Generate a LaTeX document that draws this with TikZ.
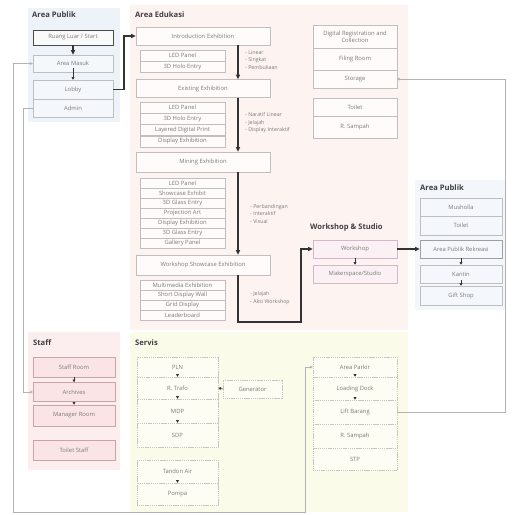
\documentclass[tikz,border=0pt]{standalone}
\usepackage{fontspec}
\setmainfont{Open Sans}
\usetikzlibrary{arrows.meta}

\definecolor{pubbg}{HTML}{EEF2F9}
\definecolor{pubbox}{HTML}{F4F7FC}
\definecolor{edubg}{HTML}{FDF4F2}
\definecolor{edubox}{HTML}{FEFBFA}
\definecolor{staffbg}{HTML}{FCEEEE}
\definecolor{staffbox}{HTML}{FBE4E6}
\definecolor{staffline}{HTML}{C8A4A8}
\definecolor{srvbg}{HTML}{FBFBEA}
\definecolor{srvbox}{HTML}{FDFDF3}
\definecolor{wsbox}{HTML}{FBF0F3}
\definecolor{wsline}{HTML}{D3B5CC}
\definecolor{txt}{HTML}{7A7A7A}

\tikzset{
  room/.style={draw=gray!50, line width=0.4pt, inner sep=0pt, align=center, text=txt, font=\fontsize{5}{6}\selectfont},
  srv/.style={room, fill=srvbox, draw=gray!45, dash pattern=on 1pt off 0.6pt},
  wide/.style={minimum width={#1*0.03cm}},
  tall/.style={minimum height={#1*0.03cm}},
  zone/.style={anchor=west, font=\fontsize{6.5}{7}\selectfont\bfseries, text=black!75, inner sep=0pt},
  note/.style={anchor=west, align=left, text=txt, font=\fontsize{4.5}{6.5}\selectfont, inner sep=0pt},
  flow/.style={-{Triangle[length=4pt,width=3.5pt]}, line width=1.1pt, draw=black!80},
  hop/.style={-{Triangle[length=2.2pt,width=2.4pt]}, line width=0.5pt, draw=black!80},
  link/.style={line width=0.5pt, draw=gray!60},
  tip/.style={-{Stealth[length=2.5pt,width=2.5pt]}},
}

\begin{document}
\begin{tikzpicture}[x=0.03cm, y=-0.03cm]
  \useasboundingbox (0,0) rectangle (511,515);
  \fill[white] (0,0) rectangle (511,515);

  % zones
  \fill[pubbg] (28,8) rectangle (120,122);
  \fill[edubg] (130,5) rectangle (408,330);
  \fill[staffbg] (28,332) rectangle (120,470);
  \fill[srvbg] (130,332) rectangle (408,512);
  \fill[pubbg!70!white] (415,180) rectangle (506,310);

  \node[zone] (tPubA) at (32,15) {Area Publik};
  \node[zone] (tEdu) at (135,15) {Area Edukasi};
  \node[zone] (tWs) at (310,228) {Workshop \& Studio};
  \node[zone] (tPubB) at (420,188) {Area Publik};
  \node[zone] (tStaff) at (33,343) {Staff};
  \node[zone] (tSrv) at (135,343) {Servis};

  % area publik (entrance)
  \node[room, wide=80, tall=15, draw=black!70, line width=0.8pt, fill=gray!4] (start) at (73,37.5) {Ruang Luar / Start};
  \node[room, wide=80, tall=17, fill=pubbox] (masuk) at (73,63.5) {Area Masuk};
  \node[room, wide=80, tall=19, fill=pubbox] (lobby) at (73,89.5) {Lobby};
  \node[room, wide=80, tall=18, fill=pubbox] (admin) at (73,108) {Admin};

  % area edukasi
  \node[room, wide=134, tall=18, fill=edubox] (intro) at (203,36) {Introduction Exhibition};
  \node[room, wide=85, tall=11, fill=edubox] (introA) at (182.5,55.5) {LED Panel};
  \node[room, wide=85, tall=11, fill=edubox] (introB) at (182.5,66.5) {3D Holo Entry};

  \node[room, wide=134, tall=18, fill=edubox] (exist) at (203,88.5) {Existing Exhibition};
  \node[room, wide=85, tall=11.25, fill=edubox] (existA) at (182.5,107.6) {LED Panel};
  \node[room, wide=85, tall=11.25, fill=edubox] (existB) at (182.5,118.9) {3D Holo Entry};
  \node[room, wide=85, tall=11.25, fill=edubox] (existC) at (182.5,130.1) {Layered Digital Print};
  \node[room, wide=85, tall=11.25, fill=edubox] (existD) at (182.5,141.4) {Display Exhibition};

  \node[room, wide=134, tall=20, fill=edubox] (mining) at (203,162) {Mining Exhibition};
  \node[room, wide=85, tall=10, fill=edubox] (miningA) at (182.5,183) {LED Panel};
  \node[room, wide=85, tall=10, fill=edubox] (miningB) at (182.5,193) {Showcase Exhibit};
  \node[room, wide=85, tall=10, fill=edubox] (miningC) at (182.5,203) {3D Glass Entry};
  \node[room, wide=85, tall=10, fill=edubox] (miningD) at (182.5,213) {Projection Art};
  \node[room, wide=85, tall=10, fill=edubox] (miningE) at (182.5,223) {Display Exhibition};
  \node[room, wide=85, tall=10, fill=edubox] (miningF) at (182.5,233) {3D Glass Entry};
  \node[room, wide=85, tall=10, fill=edubox] (miningG) at (182.5,243) {Gallery Panel};

  \node[room, wide=134, tall=20, fill=edubox] (show) at (203,265) {Workshop Showcase Exhibition};
  \node[room, wide=85, tall=10, fill=edubox] (showA) at (182.5,285) {Multimedia Exhibition};
  \node[room, wide=85, tall=10, fill=edubox] (showB) at (182.5,295) {Short Display Wall};
  \node[room, wide=85, tall=10, fill=edubox] (showC) at (182.5,305) {Grid Display};
  \node[room, wide=85, tall=10, fill=edubox] (showD) at (182.5,315) {Leaderboard};

  \node[note] (noteIntro) at (245,60) {- Linear\\- Singkat\\- Pembukaan};
  \node[note] (noteExist) at (245,123) {- Naratif Linear\\- Jelajah\\- Display Interaktif};
  \node[note] (noteMining) at (250,214) {- Perbandingan\\- Interaktif\\- Visual};
  \node[note] (noteShow) at (250,298) {- Jelajah\\- Aksi Workshop};

  \node[room, wide=84, tall=23, fill=edubox] (digreg) at (355,36.5) {Digital Registration and\\Collection};
  \node[room, wide=84, tall=22, fill=edubox] (filing) at (355,59) {Filing Room};
  \node[room, wide=84, tall=18, fill=edubox] (storage) at (355,79) {Storage};
  \node[room, wide=84, tall=18, fill=edubox] (toiletEdu) at (355,107) {Toilet};
  \node[room, wide=84, tall=22, fill=edubox] (sampahEdu) at (355,127) {R. Sampah};

  % workshop & studio
  \node[room, wide=84, tall=18, fill=wsbox, draw=wsline] (workshop) at (355,249) {Workshop};
  \node[room, wide=84, tall=18, fill=wsbox, draw=wsline] (maker) at (355,274) {Makerspace/Studio};

  % area publik (rekreasi)
  \node[room, wide=82, tall=18, fill=pubbox] (musholla) at (461,207) {Musholla};
  \node[room, wide=82, tall=19, fill=pubbox] (toiletPub) at (461,225.5) {Toilet};
  \node[room, wide=82, tall=18, fill=pubbox, draw=gray!75] (rekreasi) at (461,249) {Area Publik Rekreasi};
  \node[room, wide=82, tall=18, fill=pubbox] (kantin) at (461,274) {Kantin};
  \node[room, wide=82, tall=19, fill=pubbox] (gift) at (461,295.5) {Gift Shop};

  % staff
  \node[room, wide=82, tall=20, fill=staffbox, draw=staffline] (staffroom) at (74,367) {Staff Room};
  \node[room, wide=82, tall=19, fill=staffbox, draw=staffline] (archives) at (74,392) {Archives};
  \node[room, wide=82, tall=21, fill=staffbox, draw=staffline] (manager) at (74,415.5) {Manager Room};
  \node[room, wide=82, tall=20, fill=staffbox, draw=staffline] (toiletStaff) at (74,450) {Toilet Staff};

  % servis
  \node[srv, wide=81, tall=20] (pln) at (177.5,367) {PLN};
  \node[srv, wide=81, tall=22] (trafo) at (177.5,388) {R. Trafo};
  \node[srv, wide=81, tall=24] (mdp) at (177.5,411) {MDP};
  \node[srv, wide=81, tall=24] (sdp) at (177.5,435) {SDP};
  \node[srv, wide=59, tall=18] (genset) at (252.5,389) {Generator};
  \node[srv, wide=81, tall=23] (tandon) at (177.5,471.5) {Tandon Air};
  \node[srv, wide=81, tall=22] (pompa) at (177.5,494) {Pompa};

  \node[srv, wide=84, tall=20] (parkir) at (355,367) {Area Parkir};
  \node[srv, wide=84, tall=23] (loading) at (355,388.5) {Loading Dock};
  \node[srv, wide=84, tall=24] (lift) at (355,412) {Lift Barang};
  \node[srv, wide=84, tall=24] (sampahSrv) at (355,436) {R. Sampah};
  \node[srv, wide=84, tall=22] (stp) at (355,459) {STP};

  % main route
  \coordinate (riser) at (124,0);
  \coordinate (spine) at (238,0);
  \coordinate (bend) at (301,322);
  \draw[flow] (start) -- (masuk);
  \draw[hop] (masuk.south) ++(0,-4) -- (lobby.north);
  \draw[flow] (lobby.east) -| (intro.west -| riser) -- (intro.west);
  \draw[flow] (intro.south -| spine) -- (exist.north -| spine);
  \draw[flow] (exist.south -| spine) -- (mining.north -| spine);
  \draw[flow] (mining.south -| spine) -- (show.north -| spine);
  \draw[flow] (show.south -| spine) |- (bend) |- (workshop.west);
  \draw[flow] (workshop.east) -- (rekreasi.west);

  % steps inside groups
  \draw[hop] (workshop.south) -- (maker.north);
  \draw[hop] (rekreasi.south) -- (kantin.north);
  \draw[hop] (kantin.south) ++(0,-3) -- (gift.north);
  \draw[hop] (staffroom.south) -- (archives.north);
  \draw[hop] (archives.south) -- (manager.north);
  \draw[hop] (pln.south) ++(0,-3) -- (trafo.north);
  \draw[hop] (trafo.south) ++(0,-3) -- (mdp.north);
  \draw[hop] (mdp.south) ++(0,-3) -- (sdp.north);
  \draw[hop] (genset.west) -- (trafo.east);
  \draw[hop] (tandon.south) ++(0,-3) -- (pompa.north);
  \draw[hop] (parkir.south) ++(0,-3) -- (loading.north);
  \draw[hop] (loading.south) ++(0,-3) -- (lift.north);

  % service links
  \coordinate (botL) at (13,512);
  \coordinate (botR) at (305,512);
  \coordinate (edgeR) at (505,0);
  \draw[link, tip] (botL) |- (masuk.west);
  \draw[link, tip] (botL) -- (botR) |- (parkir.west);
  \draw[link, tip] (admin.west) -- ++(-9,0) |- (archives.west);
  \draw[link, tip] (lift.east) -| (storage.east -| edgeR) -- (storage.east);
\end{tikzpicture}
\end{document}
